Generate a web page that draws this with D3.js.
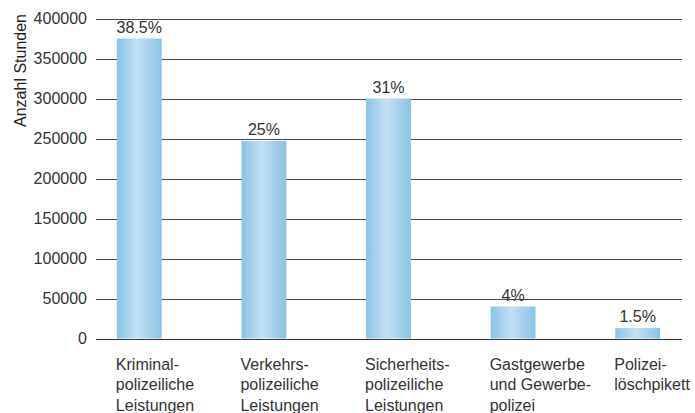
<!DOCTYPE html>
<html>
<head>
<meta charset="utf-8">
<script src="https://cdn.jsdelivr.net/npm/d3@7"></script>
<style>
  html, body { margin: 0; padding: 0; background: #fff; }
  svg { display: block; font-family: "Liberation Sans", Arial, Helvetica, sans-serif; }
</style>
</head>
<body>
<svg id="chart" width="695" height="413"></svg>
<script>
// Hours of police services by category
const categories = [
  ["Kriminal-", "polizeiliche", "Leistungen"],
  ["Verkehrs-", "polizeiliche", "Leistungen"],
  ["Sicherheits-", "polizeiliche", "Leistungen"],
  ["Gastgewerbe", "und Gewerbe-", "polizei"],
  ["Polizei-", "löschpikett"]
];
const hours = [375000, 247000, 300000, 40000, 13000];
const shares = ["38.5%", "25%", "31%", "4%", "1.5%"];
const yTicks = [0, 50000, 100000, 150000, 200000, 250000, 300000, 350000, 400000];

const svg = d3.select("#chart");
const plotLeft = 96, plotRight = 682, plotTop = 18.5, plotBottom = 338.5;

const y = d3.scaleLinear().domain([0, 400000]).range([plotBottom, plotTop]);
const x = d3.scaleBand()
  .domain(d3.range(categories.length))
  .range([77, 700])
  .paddingInner(0.64)
  .paddingOuter(0.32);

// horizontal gradient for the bars
const grad = svg.append("defs").append("linearGradient")
  .attr("id", "barGrad").attr("x1", "0%").attr("x2", "100%").attr("y1", "0%").attr("y2", "0%");
grad.append("stop").attr("offset", "0%").attr("stop-color", "#88c3e6");
grad.append("stop").attr("offset", "45%").attr("stop-color", "#c3e0f3");
grad.append("stop").attr("offset", "100%").attr("stop-color", "#88c3e6");

// gridlines
svg.append("g").selectAll("line").data(yTicks).join("line")
  .attr("x1", plotLeft).attr("x2", plotRight)
  .attr("y1", d => Math.round(y(d)) + 0.5).attr("y2", d => Math.round(y(d)) + 0.5)
  .attr("stroke", d => d === 0 ? "#333" : "#4a4a4a")
  .attr("stroke-width", 1.2);

// y tick labels
svg.append("g").selectAll("text").data(yTicks).join("text")
  .attr("x", 87).attr("y", d => y(d))
  .attr("dy", "0.36em")
  .attr("text-anchor", "end")
  .attr("font-size", 16)
  .attr("fill", "#333")
  .text(d => d);

// axis title
svg.append("text")
  .attr("transform", "translate(26,70.5) rotate(-90)")
  .attr("text-anchor", "middle")
  .attr("font-size", 16)
  .attr("fill", "#222")
  .text("Anzahl Stunden");

// bars
svg.append("g").selectAll("rect").data(hours).join("rect")
  .attr("x", (d, i) => x(i))
  .attr("width", x.bandwidth())
  .attr("y", d => y(d))
  .attr("height", d => y(0) - y(d))
  .attr("fill", "url(#barGrad)");

// value labels
svg.append("g").selectAll("text").data(hours).join("text")
  .attr("x", (d, i) => x(i) + x.bandwidth() / 2)
  .attr("y", d => y(d) - 6)
  .attr("text-anchor", "middle")
  .attr("font-size", 16)
  .attr("fill", "#333")
  .text((d, i) => shares[i]);

// category labels
const cat = svg.append("g").selectAll("text").data(categories).join("text")
  .attr("x", (d, i) => x(i) - 1)
  .attr("y", 369.5)
  .attr("font-size", 16)
  .attr("fill", "#333");
cat.selectAll("tspan").data(d => d).join("tspan")
  .attr("x", function() { return d3.select(this.parentNode).attr("x"); })
  .attr("dy", (d, j) => j === 0 ? 0 : 20.8)
  .text(d => d);
</script>
</body>
</html>
